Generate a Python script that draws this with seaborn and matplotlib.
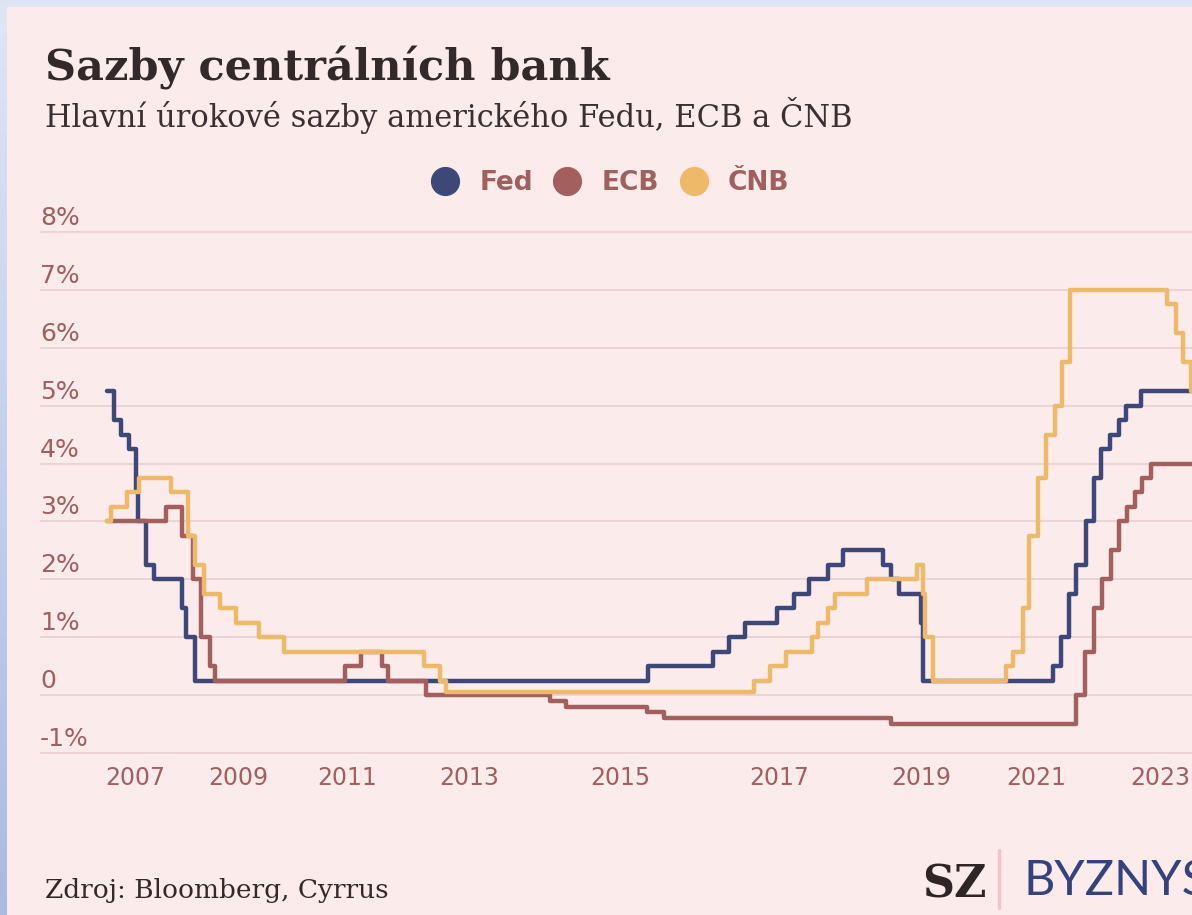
import matplotlib
matplotlib.use("Agg")
import matplotlib.pyplot as plt
import matplotlib.transforms as mtransforms
from matplotlib.colors import LinearSegmentedColormap
from matplotlib.lines import Line2D
from matplotlib.patches import Rectangle
import numpy as np
import pandas as pd
import seaborn as sns

# --- data: policy rates (step changes), % ---
banks = ["Fed", "ECB", "ČNB"]
colors = ["#3d4878", "#a35e5e", "#efb96a"]

fed_dates = ["2007-08-09", "2007-09-18", "2007-10-31", "2007-12-11", "2008-01-22",
             "2008-01-30", "2008-03-18", "2008-04-30", "2008-10-08", "2008-10-29",
             "2008-12-16", "2015-12-16", "2016-12-14", "2017-03-15", "2017-06-14",
             "2017-12-13", "2018-03-21", "2018-06-13", "2018-09-26", "2018-12-19",
             "2019-07-31", "2019-09-18", "2019-10-30", "2020-03-03", "2020-03-15",
             "2022-03-16", "2022-05-04", "2022-06-15", "2022-07-27", "2022-09-21",
             "2022-11-02", "2022-12-14", "2023-02-01", "2023-03-22", "2023-05-03",
             "2023-07-26", "2024-06-30"]
fed_values = [5.25, 4.75, 4.5, 4.25, 3.5, 3.0, 2.25, 2.0, 1.5, 1.0,
              0.25, 0.5, 0.75, 1.0, 1.25, 1.5, 1.75, 2.0, 2.25, 2.5,
              2.25, 2.0, 1.75, 1.25, 0.25, 0.5, 1.0, 1.75, 2.25, 3.0,
              3.75, 4.25, 4.5, 4.75, 5.0, 5.25, 5.25]

ecb_dates = ["2007-08-09", "2008-07-09", "2008-10-09", "2008-12-10", "2009-01-21",
             "2009-03-11", "2009-04-08", "2011-04-13", "2011-07-13", "2011-11-09",
             "2011-12-14", "2012-07-11", "2014-06-11", "2014-09-10", "2015-12-09",
             "2016-03-16", "2019-09-18", "2022-07-27", "2022-09-14", "2022-11-02",
             "2022-12-21", "2023-02-08", "2023-03-22", "2023-05-10", "2023-06-21",
             "2023-08-02", "2023-09-20", "2024-06-30"]
ecb_values = [3.0, 3.25, 2.75, 2.0, 1.0, 0.5, 0.25, 0.5, 0.75, 0.5,
              0.25, 0.0, -0.1, -0.2, -0.3, -0.4, -0.5, 0.0, 0.75, 1.5,
              2.0, 2.5, 3.0, 3.25, 3.5, 3.75, 4.0, 4.0]

cnb_dates = ["2007-08-09", "2007-08-31", "2007-11-30", "2008-02-08", "2008-08-08",
             "2008-11-07", "2008-12-18", "2009-02-06", "2009-05-11", "2009-08-07",
             "2009-12-17", "2010-05-07", "2012-06-29", "2012-10-01", "2012-11-02",
             "2017-08-04", "2017-11-03", "2018-02-02", "2018-06-28", "2018-08-03",
             "2018-09-27", "2018-11-02", "2019-05-03", "2020-02-07", "2020-03-17",
             "2020-03-27", "2020-05-08", "2021-06-24", "2021-08-06", "2021-09-30",
             "2021-11-04", "2021-12-23", "2022-02-04", "2022-03-31", "2022-05-06",
             "2022-06-23", "2023-12-22", "2024-02-08", "2024-03-21", "2024-05-03",
             "2024-06-30"]
cnb_values = [3.0, 3.25, 3.5, 3.75, 3.5, 2.75, 2.25, 1.75, 1.5, 1.25,
              1.0, 0.75, 0.5, 0.25, 0.05, 0.25, 0.5, 0.75, 1.0, 1.25,
              1.5, 1.75, 2.0, 2.25, 1.75, 1.0, 0.25, 0.5, 0.75, 1.5,
              2.75, 3.75, 4.5, 5.0, 5.75, 7.0, 6.75, 6.25, 5.75, 5.25,
              5.25]

y_ticks = [8, 7, 6, 5, 4, 3, 2, 1, 0, -1]
y_labels = ["8%", "7%", "6%", "5%", "4%", "3%", "2%", "1%", "0", "-1%"]
x_tick_dates = ["2008-01-15", "2009-08-18", "2011-04-23", "2013-03-13", "2015-07-11",
                "2017-12-24", "2020-03-04", "2021-12-10", "2023-11-09"]
x_labels = ["2007", "2009", "2011", "2013", "2015", "2017", "2019", "2021", "2023"]

BG = "#fcebeb"
GRID = "#ebd2d4"
LABEL = "#a0605f"
DARK = "#33292a"

rows = []
for bank, dates, vals in zip(banks, [fed_dates, ecb_dates, cnb_dates],
                             [fed_values, ecb_values, cnb_values]):
    for d, v in zip(dates, vals):
        rows.append({"datum": pd.Timestamp(d), "sazba": v, "banka": bank})
df = pd.DataFrame(rows)

sns.set_theme(style="white")
plt.rcParams["font.family"] = ["DejaVu Sans"]

W, H = 1192, 915
fig = plt.figure(figsize=(W / 100, H / 100), dpi=100, facecolor=BG)

# plot area runs past the right edge (the source picture is cropped)
px_left, px_right = 40, 1234.1
px_top, px_bottom = 226.2, 758.8
ax = fig.add_axes([px_left / W, 1 - px_bottom / H,
                   (px_right - px_left) / W, (px_bottom - px_top) / H])
ax.set_facecolor(BG)

sns.lineplot(data=df, x="datum", y="sazba", hue="banka", hue_order=banks,
             palette=colors, drawstyle="steps-post", linewidth=3.2,
             estimator=None, legend=False, ax=ax)

ax.set_xlim(pd.Timestamp("2006-07-29"), pd.Timestamp("2025-01-01"))
ax.set_ylim(-1.1, 8.1)
ax.set_yticks(y_ticks)
ax.tick_params(axis="y", labelleft=False, length=0)
ax.grid(axis="y", color=GRID, linewidth=1.3)
ax.grid(axis="x", visible=False)
ax.set_xticks(pd.to_datetime(x_tick_dates))
ax.set_xticklabels(x_labels, fontsize=17, color=LABEL)
ax.tick_params(axis="x", length=0, pad=5)
ax.set_xlabel("")
ax.set_ylabel("")
for s in ax.spines.values():
    s.set_visible(False)

# y labels sit above their gridlines
trans = mtransforms.offset_copy(
    mtransforms.blended_transform_factory(ax.transAxes, ax.transData),
    fig=fig, x=0, y=7, units="dots")
for v, lab in zip(y_ticks, y_labels):
    ax.text(0, v, lab, transform=trans, ha="left", va="baseline",
            fontsize=18, color=LABEL)

handles = [Line2D([], [], linestyle="none", marker="o", markersize=20,
                  markerfacecolor=c, markeredgecolor=c) for c in colors]
fig.legend(handles, banks, loc="center", bbox_to_anchor=(612 / W, 1 - 183 / H),
           ncol=3, frameon=False, prop={"weight": "bold", "size": 19},
           labelcolor=LABEL, handlelength=0.8, handletextpad=0.9,
           columnspacing=0.9)

fig.text(45 / W, 1 - 80 / H, "Sazby centrálních bank", family="DejaVu Serif",
         weight="bold", size=31, color=DARK, va="baseline")
fig.text(45 / W, 1 - 127 / H, "Hlavní úrokové sazby amerického Fedu, ECB a ČNB",
         family="DejaVu Serif", size=22, color="#3a2f33", va="baseline")
fig.text(45 / W, 1 - 898 / H, "Zdroj: Bloomberg, Cyrrus", family="DejaVu Serif",
         size=19, color=DARK, va="baseline")

# logo
fig.text(922 / W, 1 - 897 / H, "SZ", family="DejaVu Serif", weight="bold",
         size=32, color="#2f2526", va="baseline")
fig.add_artist(Line2D([999 / W, 999 / W], [1 - 908 / H, 1 - 850 / H],
                      transform=fig.transFigure, color="#f3c3c8", linewidth=2.5))
fig.text(1024 / W, 1 - 895 / H, "BYZNYS", family="Lato", weight="normal",
         size=35, color="#34427e", va="baseline")

# frame of the screenshot
band = fig.add_axes([0, 0, 7 / W, 1])
band.imshow(np.linspace(0, 1, 256).reshape(-1, 1), aspect="auto",
            cmap=LinearSegmentedColormap.from_list("band", ["#dfe6f4", "#a7bbe5"]))
band.axis("off")
fig.add_artist(Rectangle((0, 1 - 7 / H), 1, 7 / H, transform=fig.transFigure,
                         facecolor="#dde5f3", edgecolor="none"))

fig.savefig("out.png", dpi=100, facecolor=BG)
